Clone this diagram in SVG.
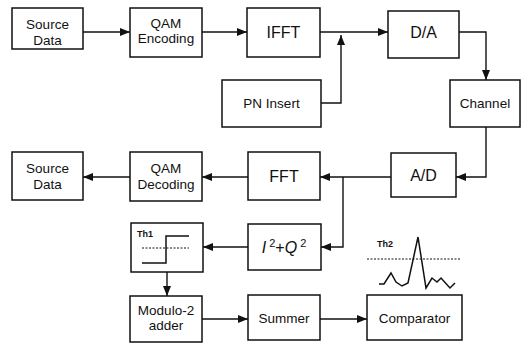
<svg xmlns="http://www.w3.org/2000/svg" width="523" height="345" viewBox="0 0 523 345">
  <defs>
    <marker id="arrow" viewBox="0 0 10 8" refX="10" refY="4" markerWidth="10" markerHeight="8" markerUnits="userSpaceOnUse" orient="auto">
      <path d="M0,0 L10,4 L0,8 Z" fill="#111"/>
    </marker>
    <style>
      .box { fill: #fff; stroke: #111; stroke-width: 1.5; }
      .lbl { font-family: "Liberation Sans", Arial, sans-serif; font-size: 13.5px; fill: #111; text-anchor: middle; }
      .big { font-size: 16px; }
      .tag { font-size: 9px; font-weight: bold; text-anchor: start; }
      .wire { fill: none; stroke: #111; stroke-width: 1.4; }
      .arr { marker-end: url(#arrow); }
      .dot { fill: none; stroke: #111; stroke-width: 1; stroke-dasharray: 2 1.5; }
      .trace { fill: none; stroke: #111; stroke-width: 1.5; stroke-linejoin: miter; }
    </style>
  </defs>
  <rect width="523" height="345" fill="#fff"/>

  <g id="connectors">
    <path class="wire arr" d="M83,32 H130"/>
    <path class="wire arr" d="M202,32 H247"/>
    <path class="wire arr" d="M320,32 H388"/>
    <path class="wire arr" d="M321,103 H341 V35"/>
    <path class="wire arr" d="M459,32 H486 V80"/>
    <path class="wire arr" d="M486,127 V177 H456"/>
    <path class="wire arr" d="M391,177 H320"/>
    <path class="wire arr" d="M343,177 V247 H321"/>
    <path class="wire arr" d="M248,177 H202"/>
    <path class="wire arr" d="M130,177 H83"/>
    <path class="wire arr" d="M248,247 H203"/>
    <path class="wire arr" d="M167,272 V296"/>
    <path class="wire arr" d="M202,319 H248"/>
    <path class="wire arr" d="M320,319 H367"/>
  </g>

  <g id="source-data-tx">
    <rect class="box" x="12" y="8" width="71" height="41"/>
    <text class="lbl" x="47.5" y="29">Source</text>
    <text class="lbl" x="47.5" y="45">Data</text>
  </g>
  <g id="qam-encoding">
    <rect class="box" x="130" y="8" width="72" height="49"/>
    <text class="lbl" x="166" y="28">QAM</text>
    <text class="lbl" x="166" y="43">Encoding</text>
  </g>
  <g id="ifft">
    <rect class="box" x="247" y="8" width="73" height="49"/>
    <text class="lbl big" x="283.5" y="38">IFFT</text>
  </g>
  <g id="da">
    <rect class="box" x="388" y="11" width="71" height="47"/>
    <text class="lbl big" x="423.5" y="38">D/A</text>
  </g>
  <g id="pn-insert">
    <rect class="box" x="222" y="80" width="99" height="47"/>
    <text class="lbl" x="271.5" y="108">PN Insert</text>
  </g>
  <g id="channel">
    <rect class="box" x="450" y="80" width="70" height="47"/>
    <text class="lbl" x="485" y="108">Channel</text>
  </g>
  <g id="ad">
    <rect class="box" x="391" y="153" width="65" height="44"/>
    <text class="lbl big" x="423.5" y="181">A/D</text>
  </g>
  <g id="fft">
    <rect class="box" x="248" y="152" width="72" height="48"/>
    <text class="lbl big" x="284" y="182">FFT</text>
  </g>
  <g id="qam-decoding">
    <rect class="box" x="130" y="152" width="72" height="49"/>
    <text class="lbl" x="166" y="173">QAM</text>
    <text class="lbl" x="166" y="189">Decoding</text>
  </g>
  <g id="source-data-rx">
    <rect class="box" x="12" y="152" width="71" height="48"/>
    <text class="lbl" x="47.5" y="173">Source</text>
    <text class="lbl" x="47.5" y="189">Data</text>
  </g>
  <g id="power">
    <rect class="box" x="248" y="224" width="73" height="46"/>
    <text class="lbl big" x="284" y="253"><tspan font-style="italic">I</tspan><tspan font-size="11" dy="-6"> 2</tspan><tspan dy="6">+</tspan><tspan font-style="italic">Q</tspan><tspan font-size="11" dy="-6"> 2</tspan></text>
  </g>
  <g id="th1">
    <rect class="box" x="131" y="223" width="72" height="49"/>
    <text class="lbl tag" x="137" y="237">Th1</text>
    <path class="dot" d="M142,248 H189"/>
    <path class="trace" d="M142,263 H166 V236 H189"/>
  </g>
  <g id="modulo2-adder">
    <rect class="box" x="130" y="296" width="72" height="46"/>
    <text class="lbl" x="166" y="315">Modulo-2</text>
    <text class="lbl" x="166" y="330">adder</text>
  </g>
  <g id="summer">
    <rect class="box" x="248" y="295" width="72" height="45"/>
    <text class="lbl" x="284" y="323">Summer</text>
  </g>
  <g id="comparator">
    <rect class="box" x="367" y="295" width="95" height="45"/>
    <text class="lbl" x="414.5" y="323">Comparator</text>
  </g>
  <g id="th2">
    <text class="lbl tag" x="377" y="247">Th2</text>
    <path class="dot" d="M367,259 H460"/>
    <path class="trace" d="M379,284 L384,284 L391,273 L396,282 L402,286 L408,283 L418,237 L426,288 L432,278 L437,282 L441,278 L450,288 L455,283"/>
  </g>
</svg>
